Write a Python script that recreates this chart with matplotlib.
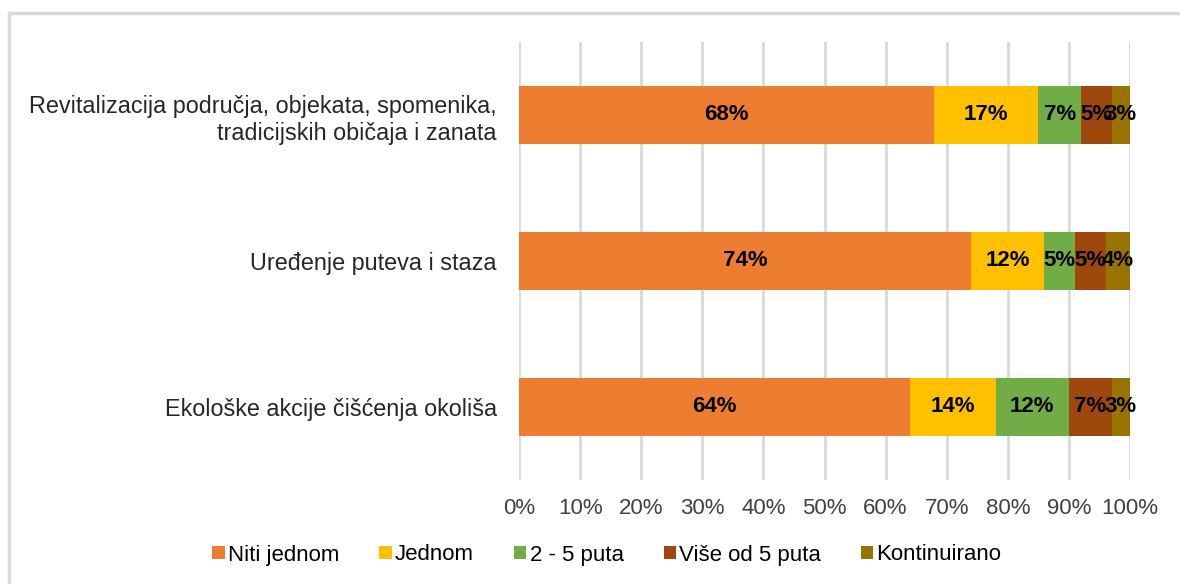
import numpy as np
import matplotlib.pyplot as plt
from matplotlib.patches import Rectangle

plt.rcParams['font.family'] = ['Liberation Sans', 'DejaVu Sans']

categories = ["Revitalizacija područja, objekata, spomenika,\ntradicijskih običaja i zanata",
              "Uređenje puteva i staza",
              "Ekološke akcije čišćenja okoliša"]
series = ["Niti jednom", "Jednom", "2 - 5 puta", "Više od 5 puta", "Kontinuirano"]
values = [
    [68, 74, 64],   # Niti jednom
    [17, 12, 14],   # Jednom
    [7, 5, 12],     # 2 - 5 puta
    [5, 5, 7],      # Više od 5 puta
    [3, 4, 3],      # Kontinuirano
]
colors = ["#ed7d31", "#ffc000", "#70ad47", "#9e480e", "#997300"]
ticks = np.arange(0, 101, 10)

fig = plt.figure(figsize=(11.8, 5.84), dpi=100)
fig.patches.append(Rectangle((9 / 1180, -0.1), 1.2, 1 - 13 / 584 + 0.1,
                             transform=fig.transFigure, fill=False,
                             edgecolor="#d9d9d9", linewidth=2.5))
ax = fig.add_axes([519 / 1180, 1 - 480 / 584, 611 / 1180, 438 / 584])

y = np.arange(len(categories))
left = np.zeros(len(categories))
for name, vals, col in zip(series, values, colors):
    vals = np.array(vals, dtype=float)
    ax.barh(y, vals, left=left, height=0.4, color=col, label=name, zorder=3)
    for yi, l, v in zip(y, left, vals):
        ax.text(l + v / 2, yi, f"{v:.0f}%", ha="center", va="center",
                fontsize=16, fontweight="bold", color="black", zorder=4)
    left += vals

ax.set_xlim(0, 100)
ax.set_ylim(len(categories) - 0.5, -0.5)
ax.set_xticks(ticks)
ax.set_xticklabels([f"{t}%" for t in ticks], fontsize=16, color="#404040")
ax.set_yticks(y)
ax.set_yticklabels(categories, fontsize=16.8, color="#262626", ha="right",
                   linespacing=1.25)
ax.tick_params(length=0)
ax.tick_params(axis="x", pad=13)
ax.tick_params(axis="y", pad=16)
ax.grid(axis="x", color="#d9d9d9", linewidth=2, zorder=0)
for s in ax.spines.values():
    s.set_visible(False)

ax.legend(loc="center", bbox_to_anchor=((607 - 519) / 611, -(555 - 480) / 438),
          ncol=5, frameon=False, fontsize=16, handlelength=0.55, handleheight=0.55,
          handletextpad=0.15, columnspacing=1.8, borderaxespad=0)

fig.savefig("out.png", dpi=100)
